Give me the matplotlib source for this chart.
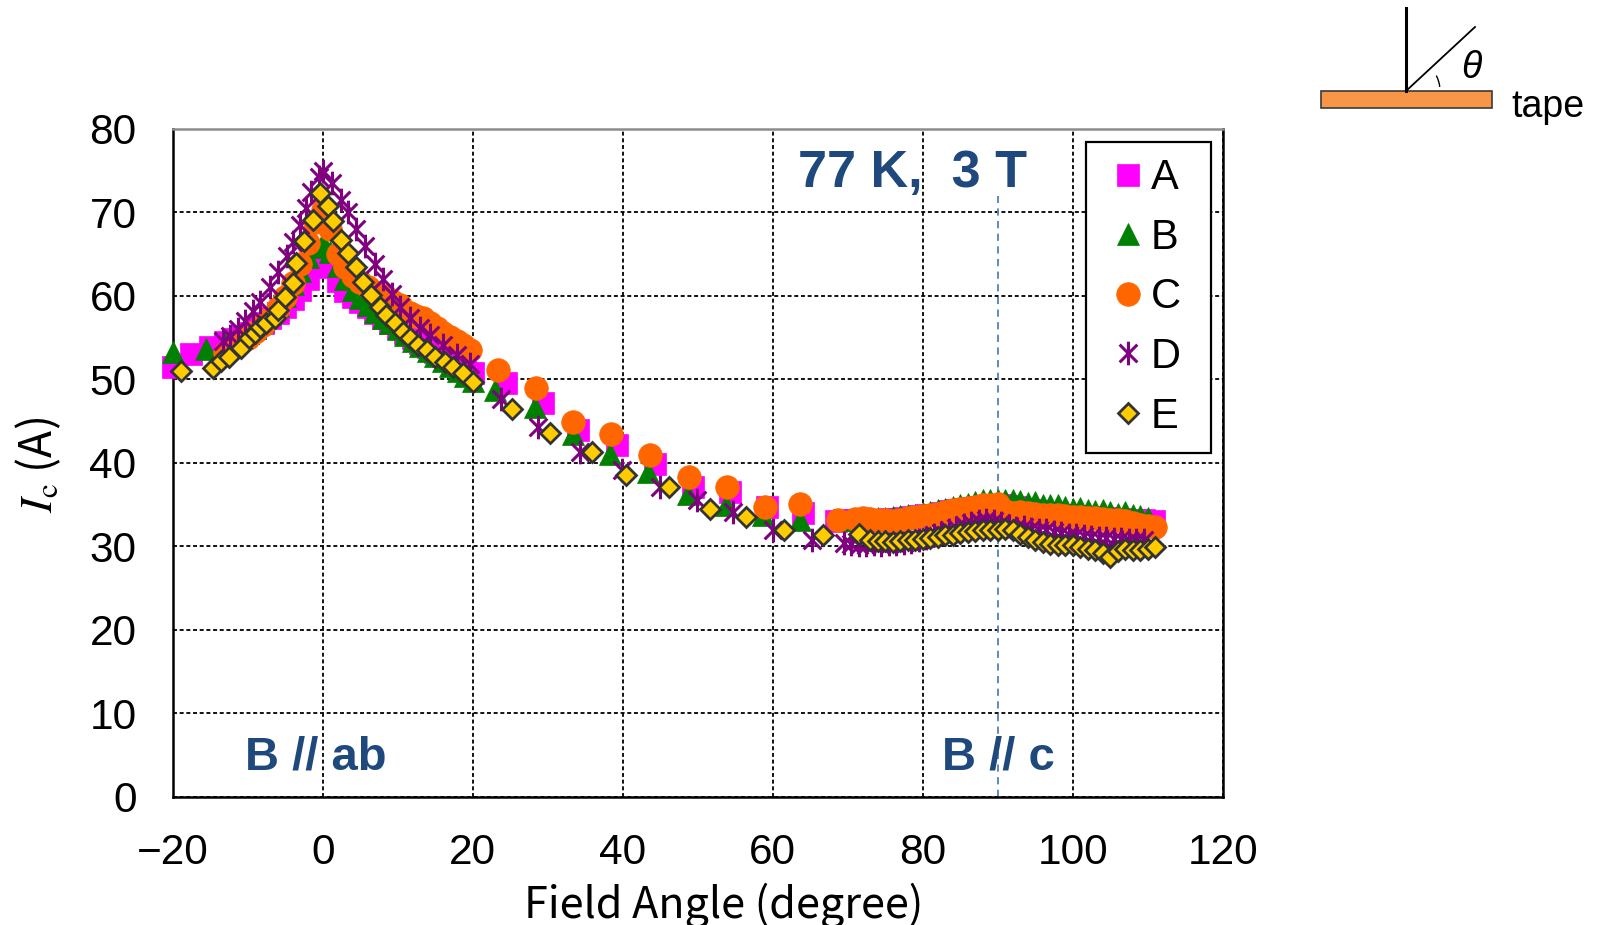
"""Ic versus field angle for five tapes (A-E) at 77 K, 3 T."""

import matplotlib
matplotlib.use("Agg")
import matplotlib.pyplot as plt
from matplotlib.path import Path
from matplotlib.patches import Rectangle, Arc

W, H, DPI = 1602, 925, 100

plt.rcParams.update({
    "font.family":      ["Liberation Sans", "DejaVu Sans"],
    "mathtext.fontset": "stix",
    "axes.unicode_minus": True,
})

# ── Data ──────────────────────────────────────────────────────────────────────
A_ANG = [-20, -17.5, -15, -13, -12, -11, -10, -9, -8, -7, -6, -5, -4, -3, -2, -1,
         0, 1, 2, 3, 4, 5, 6, 7, 8, 9, 10, 11, 12, 13, 14, 15, 16, 17, 18, 19, 20,
         24.5, 29.4, 34.0, 39.2, 44.3, 49.4, 54.3, 59.2, 64.1,
         68.5, 69.5, 70.5, 71.5, 72.5, 73.5, 74.5, 75.5, 76.5, 77.5, 78.5, 79.5,
         80.5, 81.5, 82.5, 83.5, 84.5, 85.5, 86.5, 87.5, 88.5, 89.5, 90.5, 91.5,
         92.5, 93.5, 94.5, 95.5, 96.5, 97.5, 98.5, 99.5, 100.5, 101.5, 102.5,
         103.5, 104.5, 105.5, 106.5, 107.5, 108.5, 109.5, 110.8]
A_IC = [51.5, 53.0, 53.9, 54.5, 54.8, 55.2, 55.6, 56.1, 56.7, 57.3, 58.0, 58.7,
        59.6, 60.7, 62.0, 63.6, 64.8, 63.5, 61.8, 60.6, 59.8, 59.2, 58.6, 58.0,
        57.4, 56.8, 56.2, 55.6, 55.0, 54.4, 53.9, 53.3, 52.8, 52.3, 51.8, 51.3, 50.8,
        49.5, 47.2, 43.9, 42.1, 39.9, 37.1, 36.5, 34.7, 34.0,
        33.0, 33.1, 33.1, 33.2, 33.2, 33.2, 33.2, 33.3, 33.3, 33.4, 33.5, 33.6,
        33.7, 33.8, 34.0, 34.2, 34.3, 34.5, 34.6, 34.7, 34.8, 34.8, 34.9, 34.8,
        34.7, 34.5, 34.3, 34.2, 34.0, 33.9, 33.8, 33.7, 33.6, 33.5, 33.5,
        33.4, 33.4, 33.3, 33.3, 33.2, 33.2, 33.1, 33.0]

B_ANG = [-20, -15.5, -13, -12, -11, -10, -9, -8, -7, -6, -5, -4, -3, -2, -1,
         0, 1, 2, 3, 4, 5, 6, 7, 8, 9, 10, 11, 12, 13, 14, 15, 16, 17, 18, 19, 20,
         23.0, 28.3, 33.4, 38.3, 43.4, 48.7, 53.8, 58.7, 63.6,
         70, 71, 72, 73, 74, 75, 76, 77, 78, 79, 80, 81, 82, 83, 84, 85, 86, 87,
         88, 89, 90, 91, 92, 93, 94, 95, 96, 97, 98, 99, 100, 101, 102, 103, 104,
         105, 106, 107, 108, 109, 110]
B_IC = [53.3, 53.6, 54.2, 54.6, 55.1, 55.6, 56.2, 57.0, 57.8, 58.8, 60.0, 61.4,
        63.0, 64.6, 65.8, 66.3, 65.3, 63.6, 62.0, 60.7, 59.7, 58.9, 58.1, 57.4,
        56.7, 56.0, 55.3, 54.6, 54.0, 53.4, 52.8, 52.2, 51.6, 51.0, 50.4, 49.8,
        48.7, 46.7, 43.5, 41.1, 38.9, 36.3, 34.9, 33.7, 33.1,
        33.2, 33.3, 33.3, 33.4, 33.4, 33.4, 33.5, 33.6, 33.7, 33.8, 34.0, 34.1,
        34.3, 34.5, 34.7, 34.9, 35.1, 35.3, 35.5, 35.6, 35.6, 35.5, 35.6, 35.4,
        35.2, 35.3, 35.0, 34.9, 35.0, 34.7, 34.5, 34.6, 34.4, 34.2, 34.4, 34.1,
        33.9, 34.1, 33.8, 33.6, 33.4]

C_ANG = [-13, -12, -11, -10, -9, -8, -7, -6, -5, -4, -3, -2, -1, 0, 1, 2, 3, 4,
         5, 6, 7, 8.3, 9.3, 10.3, 11.6, 12.5, 13.4, 14.3, 15.2, 16.1, 17.0, 17.9,
         18.7, 19.6,
         23.4, 28.5, 33.4, 38.4, 43.6, 48.9, 53.9, 59.0, 63.6, 68.7,
         71, 72, 73, 74, 75, 76, 77, 78, 79, 80, 81, 82, 83, 84, 85, 86, 87, 88,
         89, 90, 91, 92, 93, 94, 95, 96, 97, 98, 99, 100, 101, 102, 103, 104, 105,
         106, 107, 108, 109, 110, 111]
C_IC = [53.2, 53.8, 54.4, 55.0, 55.7, 56.5, 57.4, 58.5, 59.8, 61.5, 63.8, 66.3,
        68.8, 70.3, 68.0, 65.0, 63.5, 62.4, 61.6, 61.0, 60.5, 60.0, 59.4, 58.9,
        57.9, 57.6, 57.3, 56.8, 56.2, 55.6, 55.1, 54.6, 54.1, 53.5,
        51.1, 48.9, 44.9, 43.5, 40.9, 38.3, 37.1, 34.7, 35.1, 33.2,
        33.3, 33.4, 33.3, 33.2, 33.1, 33.0, 33.2, 33.4, 33.5, 33.6, 33.7, 33.9,
        34.1, 34.3, 34.5, 34.6, 34.7, 34.9, 35.0, 35.1, 34.2, 34.0, 34.1, 34.0,
        33.9, 33.8, 33.7, 33.7, 33.6, 33.5, 33.5, 33.4, 33.4, 33.3, 33.2, 33.1,
        33.0, 32.8, 32.6, 32.4, 32.3]

D_ANG = [-13.3, -12.4, -11.3, -10.4, -9.3, -8.4, -7.0, -5.9, -4.8, -3.9, -3.0,
         -2.2, -1.5, -0.5, 0.1, 1.2, 2.5, 3.4, 4.5, 5.6, 7.0, 8.1, 9.2, 10.3,
         11.6, 13.0, 14.3, 16.1, 17.9, 19.6,
         23.8, 28.7, 34.3, 39.9, 45.0, 49.9, 54.7, 60.1, 65.2,
         69.5, 70.5, 71.5, 72.5, 73.5, 74.5, 75.5, 76.5, 77.5, 78.5, 79.5, 80.5,
         81.5, 82.5, 83.5, 84.5, 85.5, 86.5, 87.5, 88.5, 89.5, 90.5, 91.5, 92.5,
         93.5, 94.5, 95.5, 96.5, 97.5, 98.5, 99.5, 100.5, 101.5, 102.5, 103.5,
         104.5, 105.5, 106.5, 107.5, 108.5, 109.5]
D_IC = [54.6, 55.2, 56.0, 57.0, 58.2, 59.3, 61.0, 62.8, 64.8, 66.5, 68.5, 70.5,
        72.4, 74.2, 75.0, 73.5, 71.5, 70.0, 68.0, 66.0, 63.8, 62.0, 60.2, 58.7,
        57.4, 56.2, 55.3, 54.1, 52.9, 51.8,
        47.6, 44.3, 41.3, 39.1, 37.1, 35.5, 34.1, 32.0, 30.8,
        30.4, 30.3, 30.2, 30.2, 30.3, 30.2, 30.3, 30.3, 30.4, 30.5, 30.7, 31.0,
        31.3, 31.6, 31.9, 32.2, 32.5, 32.8, 33.0, 33.1, 33.0, 32.8, 32.4, 32.2,
        32.3, 32.1, 32.0, 31.9, 31.7, 31.6, 31.4, 31.3, 31.2, 31.1, 31.0,
        31.0, 30.9, 30.9, 30.8, 30.8, 30.8]

E_ANG = [-18.9, -14.6, -13.5, -12.5, -10.9, -9.8, -9.0, -8.4, -7.5, -6.4, -5.9,
         -5.0, -3.9, -3.5, -2.5, -1.3, -0.4, 0.7, 1.4, 2.4, 3.4, 4.5, 5.4, 6.5,
         7.6, 8.5, 9.6, 10.7, 11.6, 12.7, 13.9, 15.0, 16.3, 17.4, 18.7, 20.1,
         25.3, 30.3, 35.9, 40.5, 46.2, 51.6, 56.5, 61.5, 66.7,
         71.5, 73, 74, 75, 76, 77, 78, 79, 80, 81, 82, 83, 84, 85, 86, 87, 88, 89,
         90, 91, 92, 93, 94, 95, 96, 97, 98, 99, 100, 101, 102, 103, 104, 105,
         106, 107, 108, 109, 110, 111]
E_IC = [51.0, 51.4, 52.2, 52.7, 53.7, 54.9, 55.6, 56.3, 56.7, 57.3, 58.3, 59.9,
        61.5, 63.9, 66.6, 69.1, 72.3, 70.7, 68.9, 66.7, 65.1, 63.5, 61.7, 60.1,
        58.7, 57.7, 56.7, 55.7, 54.9, 54.1, 53.5, 52.7, 52.1, 51.5, 50.7, 49.7,
        46.4, 43.6, 41.3, 38.5, 37.1, 34.5, 33.5, 31.9, 31.4,
        31.5, 30.8, 30.6, 30.6, 30.5, 30.6, 30.7, 30.8, 30.9, 31.0, 31.1, 31.3,
        31.4, 31.6, 31.7, 31.8, 32.0, 31.9, 32.0, 32.1, 31.9, 31.5, 31.1, 30.7,
        30.5, 30.3, 30.2, 30.2, 30.1, 29.9, 29.7, 29.5, 29.2, 28.7, 29.4, 29.7,
        29.6, 29.5, 29.7, 29.9]

SERIES = [("A", A_ANG, A_IC), ("B", B_ANG, B_IC), ("C", C_ANG, C_IC),
          ("D", D_ANG, D_IC), ("E", E_ANG, E_IC)]

X_TICKS = [-20, 0, 20, 40, 60, 80, 100, 120]
Y_TICKS = [0, 10, 20, 30, 40, 50, 60, 70, 80]
C_AXIS_ANGLE = 90        # B // c reference line
C_LINE_TOP = 72

# ── Marker styles ─────────────────────────────────────────────────────────────
ASTERISK = Path(
    [(0, -1), (0, 1), (-0.75, -0.75), (0.75, 0.75), (-0.75, 0.75), (0.75, -0.75)],
    [Path.MOVETO, Path.LINETO] * 3,
)
STYLE = {
    "A": dict(marker="s", ms=16, mfc="#FF00FF", mec="#FF00FF", mew=0.5),
    "B": dict(marker="^", ms=16.5, mfc="#008000", mec="#008000", mew=0.5),
    "C": dict(marker="o", ms=17, mfc="#FF6600", mec="#FF6600", mew=0.5),
    "D": dict(marker=ASTERISK, ms=17, mfc="none", mec="#800080", mew=2.2),
    "E": dict(marker="D", ms=10, mfc="#FFCC00", mec="#333333", mew=2.0),
}
TEXT_BLUE = "#1F497D"

fig = plt.figure(figsize=(W / DPI, H / DPI), dpi=DPI)
ax = fig.add_axes([172.7 / W, 1 - 796.8 / H, 1050 / W, 668 / H])

for z, (name, ang, ic) in enumerate(SERIES):
    ax.plot(ang, ic, linestyle="none", label=name, clip_on=False,
            zorder=3 + z, **STYLE[name])

ax.vlines(C_AXIS_ANGLE, 0, C_LINE_TOP, color="#4F81BD", linewidth=1.3,
          linestyles=(0, (4, 3)), zorder=2)

ax.set_xlim(-20, 120)
ax.set_ylim(0, 80)
ax.set_xticks(X_TICKS)
ax.set_yticks(Y_TICKS)
ax.tick_params(length=0, pad=26, labelsize=30.5)
ax.grid(True, color="black", linestyle=(0, (2.2, 1.5)), linewidth=1.3)
ax.set_axisbelow(True)
for side, sp in ax.spines.items():
    sp.set_linewidth(1.8)
    sp.set_color("#8C8C8C" if side == "top" else "black")

cjk = ["Noto Sans CJK JP", "DejaVu Sans"]
ax.set_xlabel("Field Angle (degree)", family=cjk, fontsize=31, va="center")
ax.xaxis.set_label_coords(0.525, -0.162)
ax.set_ylabel(r"$I_\mathrm{c}$ (A)", family=cjk, fontsize=32,
              ha="center", va="center")
ax.yaxis.set_label_coords(-0.128, 0.497)

ax.text(63.4, 73.0, "77 K,  3 T", fontsize=37.5, fontweight="bold",
        color=TEXT_BLUE, va="baseline")
ax.text(-10.4, 3.3, "B // ab", fontsize=34, fontweight="bold",
        color=TEXT_BLUE, va="baseline")
ax.text(82.6, 3.3, "B // c", fontsize=34, fontweight="bold",
        color=TEXT_BLUE, va="baseline")

leg = ax.legend(loc="upper left",
                bbox_to_anchor=(1086 / W, 1 - 440 / H, 125 / W, 298 / H),
                bbox_transform=fig.transFigure, mode="expand", borderaxespad=0,
                fontsize=30, numpoints=1, fancybox=False, framealpha=1,
                edgecolor="black", borderpad=0.39, labelspacing=0.47,
                handlelength=1.22, handletextpad=-0.06)
leg.get_frame().set_linewidth(1.6)

# ── Tape / angle sketch (figure pixel coordinates) ────────────────────────────
sk = fig.add_axes([0, 0, 1, 1])
sk.set_xlim(0, W)
sk.set_ylim(H, 0)
sk.axis("off")
sk.add_patch(Rectangle((1321, 91), 171, 17, facecolor="#F79646",
                       edgecolor="#3A3A3A", linewidth=1.2))
sk.plot([1406, 1406], [91, 8], color="black", linewidth=2.2)
sk.plot([1406, 1475], [91, 27], color="black", linewidth=1.3)
sk.add_patch(Arc((1406, 91), 68, 68, theta1=-27, theta2=-7,
                 color="black", linewidth=1.0))
sk.text(1471, 68, "θ", fontsize=27, style="italic", ha="center", va="center")
sk.text(1511, 117, "tape", fontsize=27, va="baseline")

fig.savefig("out.png", dpi=DPI)
